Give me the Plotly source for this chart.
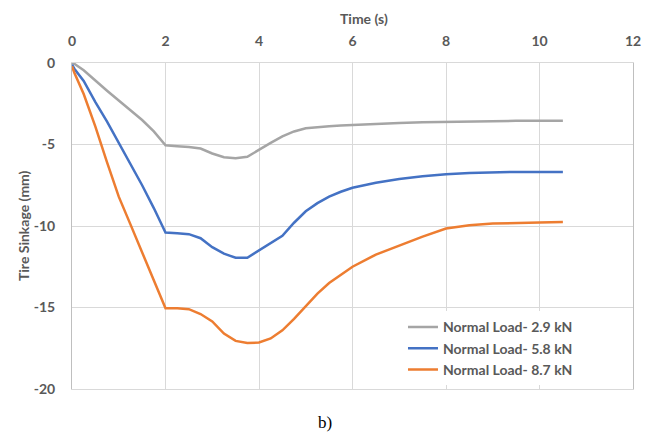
import plotly.graph_objects as go

time_s = [0, 0.05, 0.25, 0.5, 0.75, 1.0, 1.25, 1.5, 1.75, 2.0, 2.25, 2.5, 2.75, 3.0, 3.25,
          3.5, 3.75, 4.0, 4.25, 4.5, 4.75, 5.0, 5.25, 5.5, 5.75, 6.0, 6.5, 7.0, 7.5, 8.0,
          8.5, 9.0, 9.5, 10.0, 10.5]

sink_29 = [0, -0.05, -0.45, -1.1, -1.7, -2.3, -2.9, -3.5, -4.2, -5.05, -5.1, -5.15, -5.25,
           -5.55, -5.78, -5.85, -5.75, -5.3, -4.9, -4.5, -4.2, -4.0, -3.92, -3.88, -3.84,
           -3.8, -3.74, -3.68, -3.63, -3.6, -3.57, -3.56, -3.55, -3.55, -3.54]

sink_58 = [-0.1, -0.35, -1.1, -2.4, -3.6, -4.9, -6.2, -7.5, -8.9, -10.4, -10.45, -10.5,
           -10.75, -11.3, -11.7, -11.95, -11.95, -11.5, -11.1, -10.6, -9.8, -9.1, -8.6,
           -8.2, -7.9, -7.65, -7.35, -7.12, -6.95, -6.82, -6.75, -6.7, -6.68, -6.68, -6.68]

sink_87 = [-0.2, -0.6, -1.9, -3.9, -6.1, -8.2, -9.9, -11.6, -13.3, -15.05, -15.05, -15.1,
           -15.4, -15.85, -16.6, -17.05, -17.18, -17.15, -16.9, -16.4, -15.7, -14.95,
           -14.15, -13.5, -13.0, -12.5, -11.75, -11.2, -10.65, -10.15, -9.95, -9.85, -9.8,
           -9.78, -9.75]

series_names = ["Normal Load- 2.9 kN", "Normal Load- 5.8 kN", "Normal Load- 8.7 kN"]
series_colors = ["#A5A5A5", "#4472C4", "#ED7D31"]
x_ticks = [0, 2, 4, 6, 8, 10, 12]
y_ticks = [0, -5, -10, -15, -20]
y_tick_labels = ["0", "-5", "-10", "-15", "-20"]

font_fam = "Lato, Liberation Sans, sans-serif"
txt_col = "#595959"
bold14 = dict(family=font_fam, size=14, color=txt_col, weight="bold")

fig = go.Figure()
for name, vals, col in zip(series_names, [sink_29, sink_58, sink_87], series_colors):
    fig.add_trace(go.Scatter(x=time_s, y=vals, mode="lines", name=name,
                             line=dict(color=col, width=2.5)))

fig.update_layout(
    width=645, height=426,
    margin=dict(l=64, r=20, t=55, b=45),
    paper_bgcolor="white", plot_bgcolor="white",
    font=dict(family=font_fam, size=14, color=txt_col),
    showlegend=True,
    legend=dict(x=0.59, y=0.238, xanchor="left", yanchor="top",
                bgcolor="white", borderwidth=0, font=bold14, tracegroupgap=0),
    xaxis=dict(side="top", range=[0, 12], tickvals=x_ticks, showgrid=True,
               gridcolor="#d9d9d9", gridwidth=1, zeroline=False,
               showline=True, linecolor="#d9d9d9", mirror=True,
               ticks="", ticklabelstandoff=10, tickfont=bold14),
    yaxis=dict(range=[-20, 0], tickvals=y_ticks, ticktext=y_tick_labels, showgrid=True,
               gridcolor="#d9d9d9", gridwidth=1, zeroline=False,
               showline=True, linecolor="#bfbfbf", mirror=True,
               ticks="", ticklabelstandoff=13, tickfont=bold14),
    annotations=[
        dict(text="Time (s)", xref="paper", yref="paper", x=0.521, y=1.138,
             xanchor="center", yanchor="middle", showarrow=False, font=bold14),
        dict(text="Tire Sinkage (mm)", xref="paper", yref="paper", x=-0.0873, y=0.5,
             xanchor="center", yanchor="middle", showarrow=False, textangle=-90,
             font=bold14),
        dict(text="b)", xref="paper", yref="paper", x=0.451, y=-0.104,
             xanchor="center", yanchor="middle", showarrow=False,
             font=dict(family="Liberation Serif, serif", size=17, color="#000000")),
    ],
)

fig.write_html("out.html")
